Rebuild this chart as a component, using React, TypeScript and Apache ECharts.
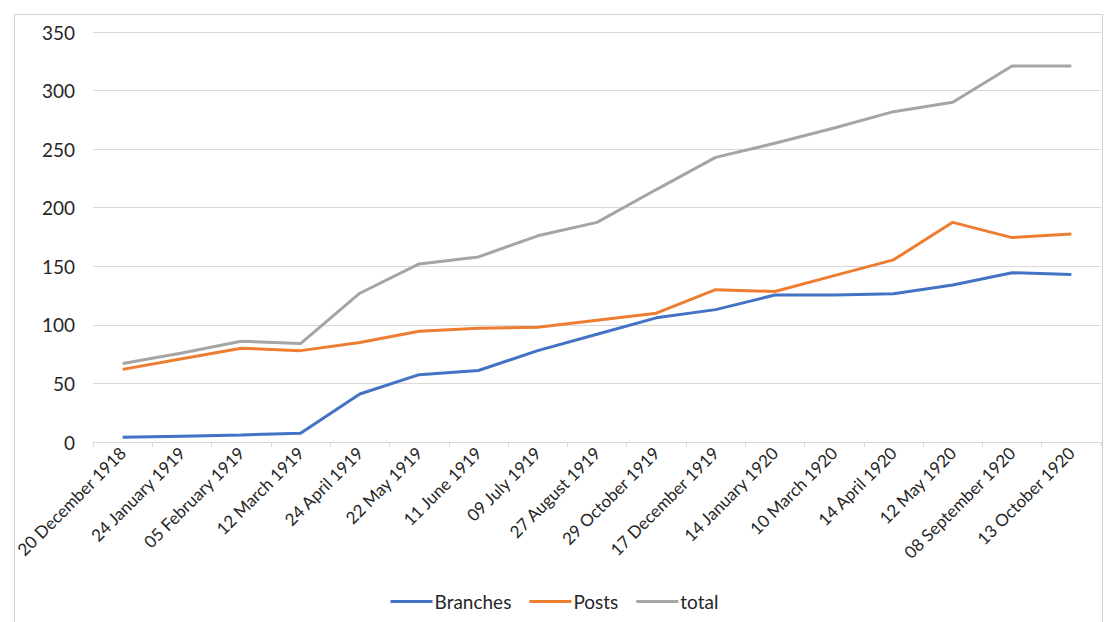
import React, { useEffect, useRef } from "react";
import * as echarts from "echarts";

const categories = [
  "20 December 1918", "24 January 1919", "05 February 1919", "12 March 1919",
  "24 April 1919", "22 May 1919", "11 June 1919", "09 July 1919",
  "27 August 1919", "29 October 1919", "17 December 1919", "14 January 1920",
  "10 March 1920", "14 April 1920", "12 May 1920", "08 September 1920",
  "13 October 1920",
];
const branches = [4, 5, 6, 7.5, 41, 57.5, 61, 78, 92, 106, 113, 125.5, 125.5, 126.5, 134, 144.5, 143];
const posts = [62, 71, 80, 78, 85, 94.5, 97, 98, 104, 110, 130, 128.5, 142, 155.5, 187.5, 174.5, 177.5];
const total = [67, 76, 86, 84, 127, 152, 158, 176, 187.5, 215.5, 243, 255, 268, 282, 290, 321, 321];
const seriesNames = ["Branches", "Posts", "total"];
const colors = ["#4472C4", "#ED7D31", "#A5A5A5"];

export default function App() {
  const ref = useRef<HTMLDivElement>(null);
  useEffect(() => {
    if (!ref.current) return;
    const chart = echarts.init(ref.current, null, { renderer: "svg" });
    const font = "Lato, 'Liberation Sans', sans-serif";
    const data = [branches, posts, total];
    chart.setOption({
      animation: false,
      backgroundColor: "#ffffff",
      color: colors,
      textStyle: { fontFamily: font },
      graphic: [
        {
          type: "rect",
          shape: { x: 14.5, y: 14.5, width: 1088, height: 620 },
          style: { fill: "none", stroke: "#d0d0d0", lineWidth: 1 },
          silent: true,
        },
      ],
      grid: { left: 93, right: 8, top: 32, bottom: 180, containLabel: false },
      legend: {
        bottom: 6,
        left: "center",
        icon: "rect",
        itemWidth: 42,
        itemHeight: 3,
        itemGap: 18,
        textStyle: { fontSize: 19, color: "#262626", fontFamily: font, padding: [0, 0, 0, -3] },
        data: seriesNames,
      },
      xAxis: {
        type: "category",
        data: categories,
        boundaryGap: true,
        axisLine: { lineStyle: { color: "#d9d9d9", width: 1 } },
        axisTick: { show: true, alignWithLabel: false, length: 5, lineStyle: { color: "#d9d9d9" } },
        axisLabel: {
          rotate: 45,
          interval: 0,
          fontSize: 17,
          color: "#262626",
          margin: 8,
          fontFamily: font,
        },
      },
      yAxis: {
        type: "value",
        min: 0,
        max: 350,
        interval: 50,
        axisLine: { show: false },
        axisTick: { show: false },
        splitLine: { lineStyle: { color: "#d9d9d9", width: 1 } },
        axisLabel: { fontSize: 19, color: "#262626", margin: 18, fontFamily: font },
      },
      series: seriesNames.map((name, i) => ({
        name,
        type: "line",
        data: data[i],
        symbol: "none",
        lineStyle: { width: 3, color: colors[i] },
        itemStyle: { color: colors[i] },
      })),
    });
    return () => chart.dispose();
  }, []);
  return <div ref={ref} style={{ width: 1109, height: 622, position: "absolute", left: 0, top: 0 }} />;
}
